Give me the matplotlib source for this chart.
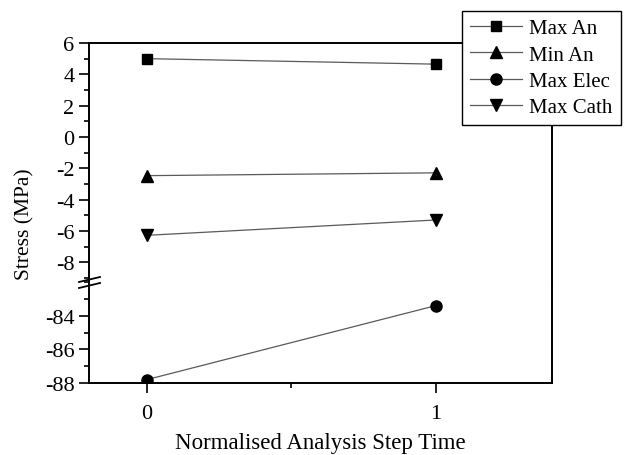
import matplotlib
matplotlib.use('Agg')
import matplotlib.pyplot as plt
from matplotlib.ticker import MultipleLocator
from matplotlib.lines import Line2D

plt.rcParams['font.family'] = ['Liberation Serif', 'DejaVu Serif']

step = [0, 1]
max_an = [5.0, 4.65]
min_an = [-2.47, -2.29]
max_elec = [-87.8, -83.4]
max_cath = [-6.28, -5.3]

upper_ticks = [6, 4, 2, 0, -2, -4, -6, -8]
lower_ticks = [-84, -86, -88]

fig = plt.figure(figsize=(6.25, 4.56), dpi=100)
W, H = 625, 456
left, right = 89 / W, 551.7 / W
ax_top = fig.add_axes([left, 1 - 283 / H, right - left, 239 / H])
ax_bot = fig.add_axes([left, 1 - 384 / H, right - left, 101 / H])

line_kw = dict(color='#5a5a5a', lw=0.9, markerfacecolor='black',
               markeredgecolor='black')
for ax in (ax_top, ax_bot):
    ax.plot(step, max_an, marker='s', ms=7, label='Max An', **line_kw)
    ax.plot(step, min_an, marker='^', ms=8.5, label='Min An', **line_kw)
    ax.plot(step, max_elec, marker='o', ms=8, label='Max Elec', **line_kw)
    ax.plot(step, max_cath, marker='v', ms=8.5, label='Max Cath', **line_kw)
    ax.set_xlim(-0.2, 1.4)
    for s in ax.spines.values():
        s.set_linewidth(1.4)
    ax.tick_params(axis='both', direction='out', labelsize=16, width=1.2)
    ax.tick_params(which='major', length=7)
    ax.tick_params(which='minor', length=3.5, width=1.2)
    ax.yaxis.set_minor_locator(MultipleLocator(1))

ax_top.set_ylim(-9.26, 6)
ax_top.set_yticks(upper_ticks)
ax_top.set_yticklabels([str(t) for t in upper_ticks])
ax_top.spines['bottom'].set_visible(False)
ax_top.tick_params(axis='x', which='both', bottom=False, labelbottom=False)

ax_bot.set_ylim(-88, -82)
ax_bot.set_yticks(lower_ticks)
ax_bot.set_yticklabels([str(t) for t in lower_ticks])
ax_bot.spines['top'].set_visible(False)
ax_bot.set_xticks(step)
ax_bot.xaxis.set_minor_locator(MultipleLocator(0.5))
ax_bot.tick_params(axis='x', pad=8)

# break marks on the left axis (pixel positions)
for y0 in (283, 289):
    fig.add_artist(Line2D([79 / W, 100 / W], [1 - y0 / H, 1 - (y0 - 5) / H],
                          transform=fig.transFigure, color='black', lw=1.3))

fig.text(320 / W, 1 - 444 / H, 'Normalised Analysis Step Time', fontsize=16.5,
         ha='center', va='center')
fig.text(25 / W, 1 - 224 / H, 'Stress (MPa)', rotation=90, fontsize=15.5,
         ha='center', va='center')

handles, labels = ax_top.get_legend_handles_labels()
leg = fig.legend(handles, labels, loc='upper left',
                 bbox_to_anchor=(462 / W, 1 - 12 / H), fontsize=15,
                 frameon=True, fancybox=False, framealpha=1,
                 edgecolor='black', handlelength=2.5, handletextpad=0.35,
                 labelspacing=0.32, borderpad=0.38, borderaxespad=0)
leg.get_frame().set_linewidth(1.0)

fig.savefig('out.png', dpi=100)
